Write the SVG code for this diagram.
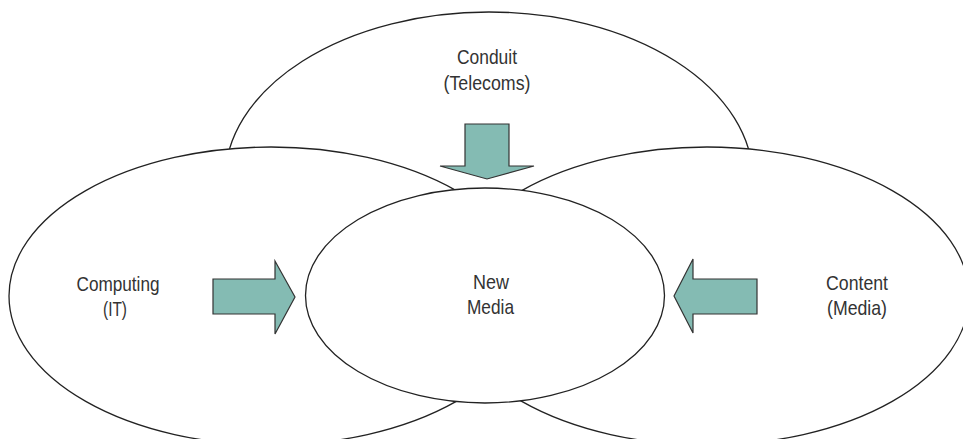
<svg xmlns="http://www.w3.org/2000/svg" width="963" height="439" viewBox="0 0 963 439">
<style>
.oval{fill:#ffffff;stroke:#222222;stroke-width:1.3}
.arrow{fill:#84BBB3;stroke:#333333;stroke-width:1.2;stroke-linejoin:miter}
.lbl{font-family:"Liberation Sans",Arial,sans-serif;font-size:21px;fill:#333333;text-anchor:middle}
</style>
<rect width="963" height="439" fill="#ffffff"/>
<g id="conduit">
<ellipse class="oval" cx="489" cy="180" rx="264" ry="168"/>
<text class="lbl" x="487" y="64" textLength="60" lengthAdjust="spacingAndGlyphs">Conduit</text>
<text class="lbl" x="487" y="90" textLength="87" lengthAdjust="spacingAndGlyphs">(Telecoms)</text>
</g>
<g id="computing">
<ellipse class="oval" cx="271" cy="296" rx="262" ry="149"/>
<text class="lbl" x="118" y="291" textLength="83" lengthAdjust="spacingAndGlyphs">Computing</text>
<text class="lbl" x="115" y="316" textLength="24" lengthAdjust="spacingAndGlyphs">(IT)</text>
</g>
<g id="content">
<ellipse class="oval" cx="707" cy="296" rx="262" ry="149"/>
<text class="lbl" x="857" y="290" textLength="62" lengthAdjust="spacingAndGlyphs">Content</text>
<text class="lbl" x="857" y="315" textLength="60" lengthAdjust="spacingAndGlyphs">(Media)</text>
</g>
<g id="newmedia">
<ellipse class="oval" cx="485" cy="295.5" rx="179.5" ry="107.5"/>
<text class="lbl" x="491" y="289" textLength="36" lengthAdjust="spacingAndGlyphs">New</text>
<text class="lbl" x="490.5" y="314" textLength="47" lengthAdjust="spacingAndGlyphs">Media</text>
</g>
<g id="connectors">
<polygon class="arrow" points="465,124 509,124 509,166 534,166 487,179 440,166 465,166"/>
<polygon class="arrow" points="213,279 275,279 275,261 295,297 275,334 275,314 213,314"/>
<polygon class="arrow" points="757,279 693,279 693,259 674,296 693,333 693,314 757,314"/>
</g>
</svg>
